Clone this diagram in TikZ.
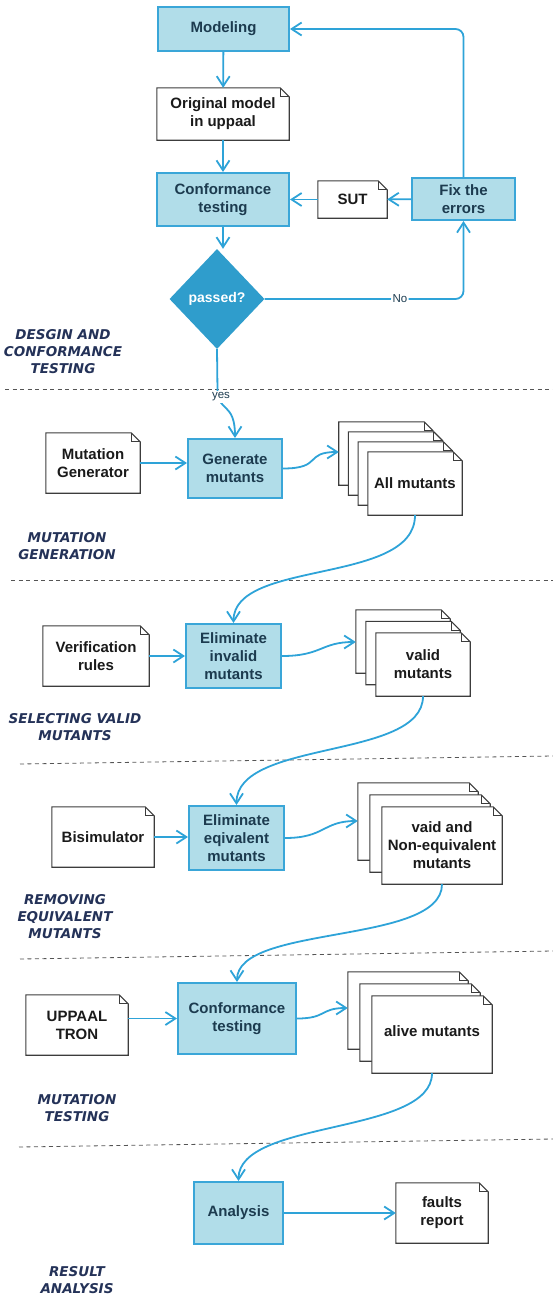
\documentclass[tikz,border=0pt]{standalone}
\usepackage{fontspec}
\setmainfont{Liberation Sans}
\newfontfamily\secfont{DejaVu Sans}
\usetikzlibrary{arrows.meta,calc,shapes.geometric}
\pgfdeclarelayer{paper}
\pgfsetlayers{paper,main}

\definecolor{boxfill}{RGB}{177,221,233}
\definecolor{boxline}{RGB}{58,166,216}
\definecolor{flowc}{RGB}{46,163,216}
\definecolor{diamondc}{RGB}{47,157,204}
\definecolor{proctext}{RGB}{28,59,79}
\definecolor{doctext}{RGB}{26,26,26}
\definecolor{docline}{RGB}{60,60,60}
\definecolor{seccol}{RGB}{36,50,88}
\definecolor{sepcol}{RGB}{85,85,85}

\def\fold{9}
% outline of a dog-eared page behind node #1, shifted by (#2,#3)
\newcommand\pageoutline[3]{%
  \filldraw[pageline] ($(#1.south west)+(#2,#3)$) -- ($(#1.north west)+(#2,#3)$)
    -- ($(#1.north east)+(#2,#3)+(-\fold,0)$) -- ($(#1.north east)+(#2,#3)+(0,\fold)$)
    -- ($(#1.south east)+(#2,#3)$) -- cycle;
  \draw[pageline,fill=none] ($(#1.north east)+(#2,#3)+(-\fold,0)$)
    -- ($(#1.north east)+(#2,#3)+(-\fold,\fold)$) -- ($(#1.north east)+(#2,#3)+(0,\fold)$);
}

\tikzset{
  proc/.style={rectangle, draw=boxline, fill=boxfill, line width=2pt, text=proctext,
    font=\fontsize{15}{18}\selectfont\bfseries, align=center, inner sep=2pt},
  doc/.style={rectangle, text=doctext, font=\fontsize{15}{18}\selectfont\bfseries,
    align=center, inner sep=2pt},
  pageline/.style={draw=docline, fill=white, line width=1.1pt, line join=miter},
  flow/.style={draw=flowc, line width=1.8pt,
    -{Straight Barb[length=10pt,width=13pt]}},
  lbl/.style={fill=white, text=proctext, font=\fontsize{11.5}{13}\selectfont, inner sep=1.5pt},
  sec/.style={text=seccol, font=\secfont\fontsize{13.5}{17}\selectfont\bfseries\itshape, align=center},
  sep/.style={draw=sepcol, line width=0.8pt, dash pattern=on 4pt off 3.5pt},
}

\begin{document}
\begin{tikzpicture}[x=1pt,y=-1pt]
\useasboundingbox (0,0) rectangle (553,1298);

% ---- separators between phases
\draw[sep] (5,389) -- (553,389);
\draw[sep] (11,580) -- (553,580);
\draw[sep] (20,764) -- (553,756);
\draw[sep] (20,959) -- (553,951);
\draw[sep] (19,1147) -- (553,1139);

% ---- phase titles
\node[sec] (t1) at (63,352) {DESGIN AND\\CONFORMANCE\\TESTING};
\node[sec] (t2) at (67,546) {MUTATION\\GENERATION};
\node[sec] (t3) at (75,727.5) {SELECTING VALID\\MUTANTS};
\node[sec] (t4) at (65,917) {REMOVING\\EQUIVALENT\\MUTANTS};
\node[sec] (t5) at (77,1108.5) {MUTATION\\TESTING};
\node[sec] (t6) at (77,1280) {RESULT\\ANALYSIS};

% ---- process steps
\node[proc, minimum width=131pt, minimum height=44pt] (model) at (223.5,29) {Modeling};
\node[proc, minimum width=132pt, minimum height=53pt] (confA) at (223,199.5) {Conformance\\testing};
\node[proc, minimum width=103pt, minimum height=42pt] (fix) at (463.5,199) {Fix the\\errors};
\node[proc, minimum width=94pt, minimum height=59pt] (gen) at (235,468.5) {Generate\\mutants};
\node[proc, minimum width=95pt, minimum height=64pt] (elimI) at (233.5,656) {Eliminate\\invalid\\mutants};
\node[proc, minimum width=95pt, minimum height=64pt] (elimE) at (236.5,838) {Eliminate\\eqivalent\\mutants};
\node[proc, minimum width=118pt, minimum height=71pt] (confB) at (237,1018.5) {Conformance\\testing};
\node[proc, minimum width=89pt, minimum height=62pt] (analysis) at (238.5,1213) {Analysis};

\node[diamond, fill=diamondc, minimum width=95pt, minimum height=100pt, inner sep=0pt,
  text=white, font=\fontsize{14}{16}\selectfont\bfseries] (pass) at (217,299) {passed?};

% ---- documents
\node[doc, minimum width=132pt, minimum height=52pt] (orig) at (223,114) {Original model\\in uppaal};
\node[doc, minimum width=69pt, minimum height=37pt] (sut) at (352.5,199.5) {SUT};
\node[doc, minimum width=94pt, minimum height=60pt] (mgen) at (93,463) {Mutation\\Generator};
\node[doc, minimum width=106pt, minimum height=60pt] (vrules) at (96,656) {Verification\\rules};
\node[doc, minimum width=102pt, minimum height=60pt] (bisim) at (103,837) {Bisimulator};
\node[doc, minimum width=102pt, minimum height=60pt] (tron) at (77,1025) {UPPAAL\\TRON};
\node[doc, minimum width=92pt, minimum height=60pt] (faults) at (442,1213) {faults\\report};

% ---- stacks of mutant files (front page)
\node[doc, minimum width=94pt, minimum height=63pt] (allm) at (415,483.5) {All mutants};
\node[doc, minimum width=94pt, minimum height=63pt] (validm) at (423,664.5) {valid\\mutants};
\node[doc, minimum width=120pt, minimum height=77pt] (noneq) at (442,845.5) {vaid and\\Non-equivalent\\mutants};
\node[doc, minimum width=120pt, minimum height=77pt] (alive) at (432,1034.5) {\raisebox{7pt}{alive mutants}};

\coordinate (allmin) at ($(allm.west)+(-29,-31.5)$);
\coordinate (validin) at ($(validm.west)+(-20,-22.5)$);
\coordinate (noneqin) at ($(noneq.west)+(-24,-24.5)$);
\coordinate (alivein) at ($(alive.west)+(-24,-26.5)$);

\begin{pgfonlayer}{paper}
  \pageoutline{orig}{0}{0}
  \pageoutline{sut}{0}{0}
  \pageoutline{mgen}{0}{0}
  \pageoutline{vrules}{0}{0}
  \pageoutline{bisim}{0}{0}
  \pageoutline{tron}{0}{0}
  \pageoutline{faults}{0}{0}
  \foreach \k in {3,2,1,0} {\pageoutline{allm}{-9.7*\k}{-10*\k}}
  \foreach \k in {2,1,0} {\pageoutline{validm}{-10*\k}{-11.5*\k}}
  \foreach \k in {2,1,0} {\pageoutline{noneq}{-12*\k}{-12*\k}}
  \foreach \k in {2,1,0} {\pageoutline{alive}{-12*\k}{-12*\k}}
\end{pgfonlayer}

% ---- design and conformance loop
\draw[flow] (model) -- (orig);
\draw[flow] (orig) -- (confA);
\draw[flow] (confA.south) -- (confA.south |- pass.north);
\draw[flow] (fix) -- (sut);
\draw[flow] (sut) -- (confA);
\draw[flow, rounded corners=8pt] (fix.north) |- (model.east);
\draw[flow, rounded corners=8pt] (pass.east) -| node[lbl, pos=0.34] {No} (fix.south);
\draw[flow] (pass.south) -- (217.5,391) .. controls (218,412) and (235,402) .. (gen.north);
\node[lbl] (yes) at (221,397) {yes};

% ---- mutation generation
\draw[flow] (mgen.east) -- (mgen.east -| gen.west);
\draw[flow] (gen.east) .. controls +(40,0) and +(-35,0) .. (allmin);
\draw[flow] (allm.south) .. controls +(0,70) and +(0,-64) .. (elimI.north);

% ---- selecting valid mutants
\draw[flow] (vrules.east) -- (vrules.east -| elimI.west);
\draw[flow] (elimI.east) .. controls +(40,0) and +(-35,0) .. (validin);
\draw[flow] (validm.south) .. controls +(0,64) and +(0,-66) .. (elimE.north);

% ---- removing equivalent mutants
\draw[flow] (bisim.east) -- (bisim.east -| elimE.west);
\draw[flow] (elimE.east) .. controls +(40,0) and +(-35,0) .. (noneqin);
\draw[flow] (noneq.south) .. controls +(0,61) and +(0,-58) .. (confB.north);

% ---- mutation testing
\draw[flow] (tron.east |- confB.west) -- (confB.west);
\draw[flow] (confB.east) .. controls +(30,0) and +(-28,0) .. (alivein);
\draw[flow] (alive.south) .. controls +(0,62) and +(0,-62) .. (analysis.north);

% ---- result analysis
\draw[flow] (analysis.east) -- (analysis.east -| faults.west);
\end{tikzpicture}
\end{document}
